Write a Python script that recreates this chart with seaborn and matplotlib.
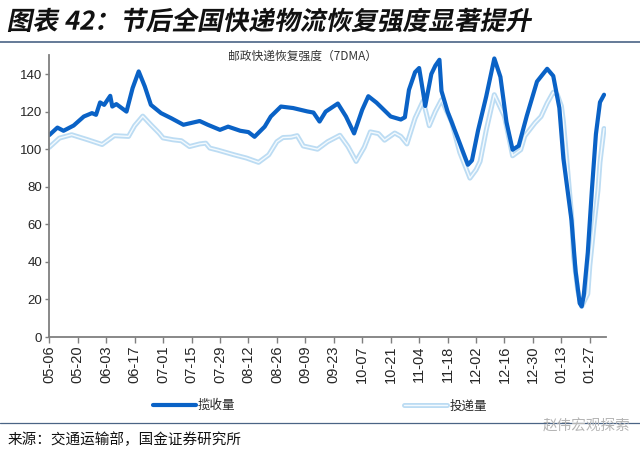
import numpy as np
import pandas as pd
import seaborn as sns
import matplotlib.pyplot as plt
import matplotlib.dates as mdates
from matplotlib.lines import Line2D
from matplotlib.transforms import Affine2D
from matplotlib.patheffects import AbstractPathEffect, Stroke, Normal

sns.set_style('ticks')
plt.rcParams['font.family'] = ['Liberation Sans', 'Noto Sans CJK SC']
CJK = ['Noto Sans CJK SC', 'DejaVu Sans']

start = pd.Timestamp('2022-05-06')

# 揽收量 (days after 05-06, value)
pickup_day = [0, 4, 7, 12, 17, 21, 23, 25, 27, 30, 31, 33, 38, 41, 44, 47, 50, 55, 60, 66,
              74, 78, 84, 88, 94, 98, 101, 106, 109, 114, 120, 127, 130, 133, 136, 142, 146,
              150, 154, 157, 161, 168, 173, 175, 177, 180, 182, 184, 185, 188, 190, 192, 193,
              196, 201, 206, 208, 211, 215, 219, 222, 225, 228, 231, 235, 240, 245, 248, 251,
              253, 257, 259, 261, 262, 263, 265, 267, 269, 271, 273]
pickup_val = [107.5, 111.5, 109.8, 112.6, 117.4, 119.2, 118.3, 124.9, 123.6, 128.4, 122.7, 124,
              120, 132.5, 141.4, 133.4, 123.6, 119.2, 116.5, 113, 115, 113, 110.3, 112, 109.8,
              109.1, 106.6, 112, 117.4, 122.7, 121.9, 120.1, 119.5, 114.7, 120, 124.3, 117.4,
              108.4, 121, 128.2, 124.8, 117.4, 115.8, 117, 131.6, 141, 143.2, 130, 123, 140,
              144.5, 147.6, 131, 120, 106, 91.7, 94, 110, 128, 148.3, 138.5, 114.3, 99.7, 101.8,
              117.8, 136, 142.8, 139, 122, 95, 62, 35, 18, 16.3, 22, 45, 78, 108, 125, 129]

# 投递量
delivery_day = [0, 5, 11, 19, 26, 32, 39, 42, 46, 50, 54, 56, 61, 65, 69, 74, 77, 79, 83, 91,
                97, 103, 108, 112, 115, 119, 122, 125, 132, 137, 143, 147, 151, 155, 158, 162,
                165, 170, 173, 176, 180, 184, 187, 190, 193, 198, 202, 207, 210, 212, 215, 219,
                224, 228, 232, 234, 239, 242, 245, 248, 250, 252, 253, 255, 257, 258, 260, 262,
                265, 266, 268, 270, 271, 273]
delivery_val = [101, 105.9, 107.7, 105, 102.5, 107.2, 106.8, 112.5, 117.6, 113, 108.6, 106, 105,
                104.5, 101.4, 102.8, 103.2, 100.6, 99.5, 97, 95.3, 93, 97, 104, 106.2, 106.4,
                107.2, 101.7, 100, 104, 107.4, 101.4, 93.5, 101, 109.2, 108.3, 104.8, 108.6,
                106.8, 102.8, 116.5, 125.8, 112.5, 120.1, 126.3, 114.5, 98.3, 84.6, 89, 93.5,
                110, 129, 117.4, 96.5, 99.7, 107, 114, 117.4, 124.5, 130.3, 129, 123, 114.7, 90,
                65, 43, 25, 16.3, 23, 38, 59, 78, 93, 111]

tick_dates = pd.date_range(start, periods=20, freq='14D')

pickup = pd.DataFrame({'date': start + pd.to_timedelta(pickup_day, 'D'), 'v': pickup_val})
delivery = pd.DataFrame({'date': start + pd.to_timedelta(delivery_day, 'D'), 'v': delivery_val})


class Slant(AbstractPathEffect):
    # fake italic for the CJK title
    def __init__(self, y0, k=0.2):
        super().__init__()
        self.y0, self.k = y0, k

    def draw_path(self, renderer, gc, tpath, affine, rgbFace=None):
        sk = Affine2D().translate(0, -self.y0).skew(np.arctan(self.k), 0).translate(0, self.y0)
        renderer.draw_path(gc, tpath, affine + sk, rgbFace)


fig = plt.figure(figsize=(6.4, 4.53), dpi=100)
ax = fig.add_axes([0.077, 0.256, 0.870, 0.622])

sns.lineplot(data=delivery, x='date', y='v', ax=ax, color='#f4fafe', lw=1.0,
             path_effects=[Stroke(linewidth=3.6, foreground='#bcdcf3'), Normal()],
             label='投递量', legend=False)
sns.lineplot(data=pickup, x='date', y='v', ax=ax, color='#0a62c6', lw=3.0,
             label='揽收量', legend=False)

ax.set_ylim(0, 150)
ax.set_yticks(range(0, 141, 20))
ax.set_xlim(start, start + pd.Timedelta(days=274))
ax.set_xticks(tick_dates)
ax.xaxis.set_major_formatter(mdates.DateFormatter('%m-%d'))
ax.tick_params(axis='x', labelrotation=90, labelsize=10.5, length=4, width=1, color='#7f7f7f', pad=2)
ax.tick_params(axis='y', labelsize=9.5, length=3, width=1, color='#7f7f7f', pad=2)
ax.set_xlabel('')
ax.set_ylabel('')
sns.despine(ax=ax)
for s in ['left', 'bottom']:
    ax.spines[s].set_color('#7f7f7f')
    ax.spines[s].set_linewidth(1.3)

handles, labels = ax.get_legend_handles_labels()
order = [labels.index('揽收量'), labels.index('投递量')]
fig.legend([handles[i] for i in order], [labels[i] for i in order], loc='center',
           bbox_to_anchor=(0.5, 0.104), ncol=2, frameon=False, handlelength=3.4,
           columnspacing=13.5, handletextpad=0.2, prop={'family': CJK, 'size': 9})

fig.text(0.0125, 0.951, '图表 42：节后全国快递物流恢复强度显著提升', family=CJK, fontsize=18.5,
         fontweight='bold', va='center', color='#111111', path_effects=[Slant(431)])
fig.text(0.473, 0.876, '邮政快递恢复强度（7DMA）', family=CJK, fontsize=8.5, ha='center',
         va='center', color='#333333')
fig.text(0.0125, 0.029, '来源：交通运输部，国金证券研究所', family=CJK, fontsize=10.5,
         va='center', color='#111111')
fig.text(0.985, 0.058, '赵伟宏观探索', family=CJK, fontsize=10.5, ha='right', va='center',
         color='#b5b5b5')

fig.add_artist(Line2D([0, 1], [0.907, 0.907], transform=fig.transFigure, color='#4a6485', lw=1.2))
fig.add_artist(Line2D([0, 1], [0.066, 0.066], transform=fig.transFigure, color='#4a6485', lw=0.9))

fig.savefig('out.png', dpi=100)
